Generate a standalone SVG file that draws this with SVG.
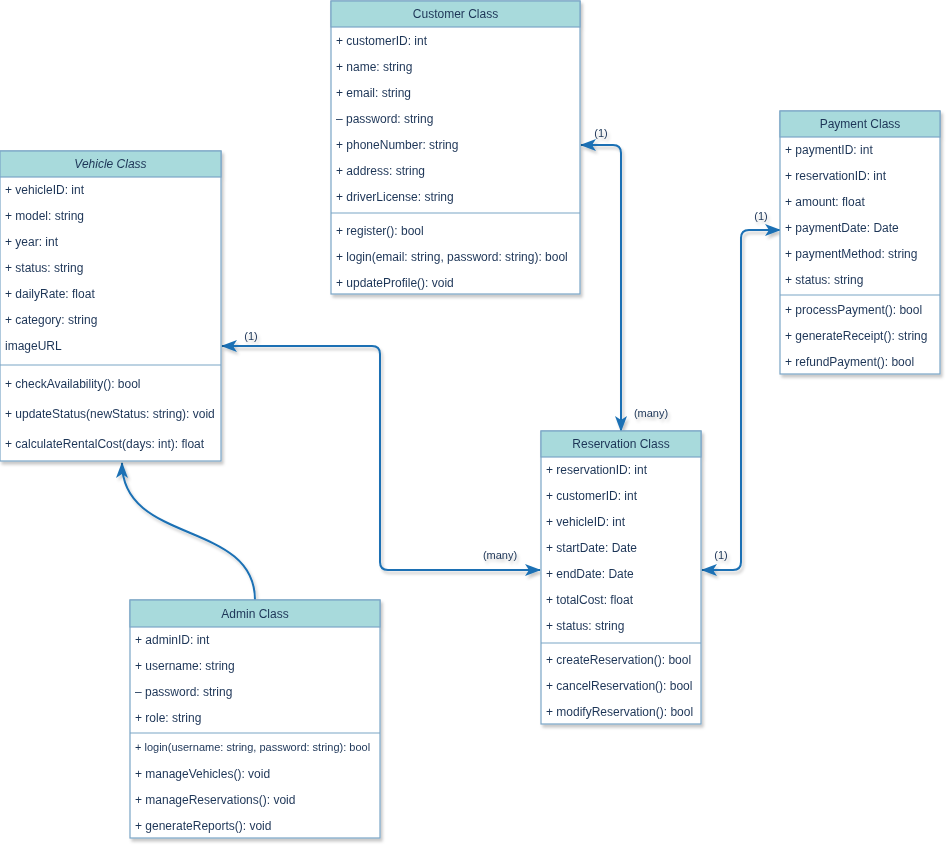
<svg xmlns="http://www.w3.org/2000/svg" width="952" height="853" viewBox="0 0 952 853">
<defs>
<filter id="sh" x="-10%" y="-10%" width="120%" height="120%">
<feDropShadow dx="2" dy="3" stdDeviation="1.6" flood-color="#000" flood-opacity="0.22"/>
</filter>
<marker id="ar" markerUnits="userSpaceOnUse" viewBox="0 0 16 12" refX="15" refY="6" markerWidth="16" markerHeight="12" orient="auto-start-reverse">
<path d="M0,0 L16,6 L0,12 L4,6 Z" fill="#1a70b4"/>
</marker>
</defs>
<style>
.box{fill:#ffffff;stroke:#7ba6c6;stroke-width:1.2}
.hd{fill:#a8dadc;stroke:#7ba6c6;stroke-width:1.2}
.sep{stroke:#7ba6c6;stroke-width:1.2}
text{font-family:"Liberation Sans",Arial,Helvetica,sans-serif;font-size:12px;fill:#1d3557}
.t{text-anchor:middle}
.sm{font-size:11px}
.e{fill:none;stroke:#1a70b4;stroke-width:2}
.lb{font-size:11px;text-anchor:middle}
</style>
<rect width="952" height="853" fill="#ffffff"/>

<g id="connectors" filter="url(#sh)">
<path class="e" d="M621,431 L621,153 Q621,145 613,145 L581,145" marker-start="url(#ar)" marker-end="url(#ar)"/>
<path class="e" d="M780,230 L749,230 Q741,230 741,238 L741,562 Q741,570 733,570 L702,570" marker-start="url(#ar)" marker-end="url(#ar)"/>
<path class="e" d="M222,346 L372,346 Q380,346 380,354 L380,562 Q380,570 388,570 L540,570" marker-start="url(#ar)" marker-end="url(#ar)"/>
<path class="e" d="M255,600 C255,520 122,545 122,463" marker-end="url(#ar)"/>
<text class="lb" x="601" y="137">(1)</text>
<text class="lb" x="651" y="417">(many)</text>
<text class="lb" x="761" y="220">(1)</text>
<text class="lb" x="721" y="559">(1)</text>
<text class="lb" x="500" y="559">(many)</text>
<text class="lb" x="251" y="340">(1)</text>
</g>

<g id="customer" filter="url(#sh)">
<rect class="box" x="331" y="1" width="249" height="293"/>
<rect class="hd" x="331" y="1" width="249" height="26"/>
<text class="t" x="455.5" y="18">Customer Class</text>
<text x="336" y="45">+ customerID: int</text>
<text x="336" y="71">+ name: string</text>
<text x="336" y="97">+ email: string</text>
<text x="336" y="123">– password: string</text>
<text x="336" y="149">+ phoneNumber: string</text>
<text x="336" y="175">+ address: string</text>
<text x="336" y="201">+ driverLicense: string</text>
<line class="sep" x1="331" y1="213" x2="580" y2="213"/>
<text x="336" y="235">+ register(): bool</text>
<text x="336" y="261">+ login(email: string, password: string): bool</text>
<text x="336" y="287">+ updateProfile(): void</text>
</g>

<g id="vehicle" filter="url(#sh)">
<rect class="box" x="0" y="151" width="221" height="310"/>
<rect class="hd" x="0" y="151" width="221" height="26"/>
<text class="t" x="110.5" y="168" font-style="italic">Vehicle Class</text>
<text x="5" y="194">+ vehicleID: int</text>
<text x="5" y="220">+ model: string</text>
<text x="5" y="246">+ year: int</text>
<text x="5" y="272">+ status: string</text>
<text x="5" y="298">+ dailyRate: float</text>
<text x="5" y="324">+ category: string</text>
<text x="5" y="350">imageURL</text>
<line class="sep" x1="0" y1="365" x2="221" y2="365"/>
<text x="5" y="388">+ checkAvailability(): bool</text>
<text x="5" y="418">+ updateStatus(newStatus: string): void</text>
<text x="5" y="448">+ calculateRentalCost(days: int): float</text>
</g>

<g id="payment" filter="url(#sh)">
<rect class="box" x="780" y="111" width="160" height="263"/>
<rect class="hd" x="780" y="111" width="160" height="26"/>
<text class="t" x="860" y="128">Payment Class</text>
<text x="785" y="154">+ paymentID: int</text>
<text x="785" y="180">+ reservationID: int</text>
<text x="785" y="206">+ amount: float</text>
<text x="785" y="232">+ paymentDate: Date</text>
<text x="785" y="258">+ paymentMethod: string</text>
<text x="785" y="284">+ status: string</text>
<line class="sep" x1="780" y1="295" x2="940" y2="295"/>
<text x="785" y="314">+ processPayment(): bool</text>
<text x="785" y="340">+ generateReceipt(): string</text>
<text x="785" y="366">+ refundPayment(): bool</text>
</g>

<g id="reservation" filter="url(#sh)">
<rect class="box" x="541" y="431" width="160" height="293"/>
<rect class="hd" x="541" y="431" width="160" height="26"/>
<text class="t" x="621" y="448">Reservation Class</text>
<text x="546" y="474">+ reservationID: int</text>
<text x="546" y="500">+ customerID: int</text>
<text x="546" y="526">+ vehicleID: int</text>
<text x="546" y="552">+ startDate: Date</text>
<text x="546" y="578">+ endDate: Date</text>
<text x="546" y="604">+ totalCost: float</text>
<text x="546" y="630">+ status: string</text>
<line class="sep" x1="541" y1="643" x2="701" y2="643"/>
<text x="546" y="664">+ createReservation(): bool</text>
<text x="546" y="690">+ cancelReservation(): bool</text>
<text x="546" y="716">+ modifyReservation(): bool</text>
</g>

<g id="admin" filter="url(#sh)">
<rect class="box" x="130" y="600" width="250" height="238"/>
<rect class="hd" x="130" y="600" width="250" height="27"/>
<text class="t" x="255" y="618">Admin Class</text>
<text x="135" y="644">+ adminID: int</text>
<text x="135" y="670">+ username: string</text>
<text x="135" y="696">– password: string</text>
<text x="135" y="722">+ role: string</text>
<line class="sep" x1="130" y1="733" x2="380" y2="733"/>
<text class="sm" x="135" y="751">+ login(username: string, password: string): bool</text>
<text x="135" y="778">+ manageVehicles(): void</text>
<text x="135" y="804">+ manageReservations(): void</text>
<text x="135" y="830">+ generateReports(): void</text>
</g>
</svg>
